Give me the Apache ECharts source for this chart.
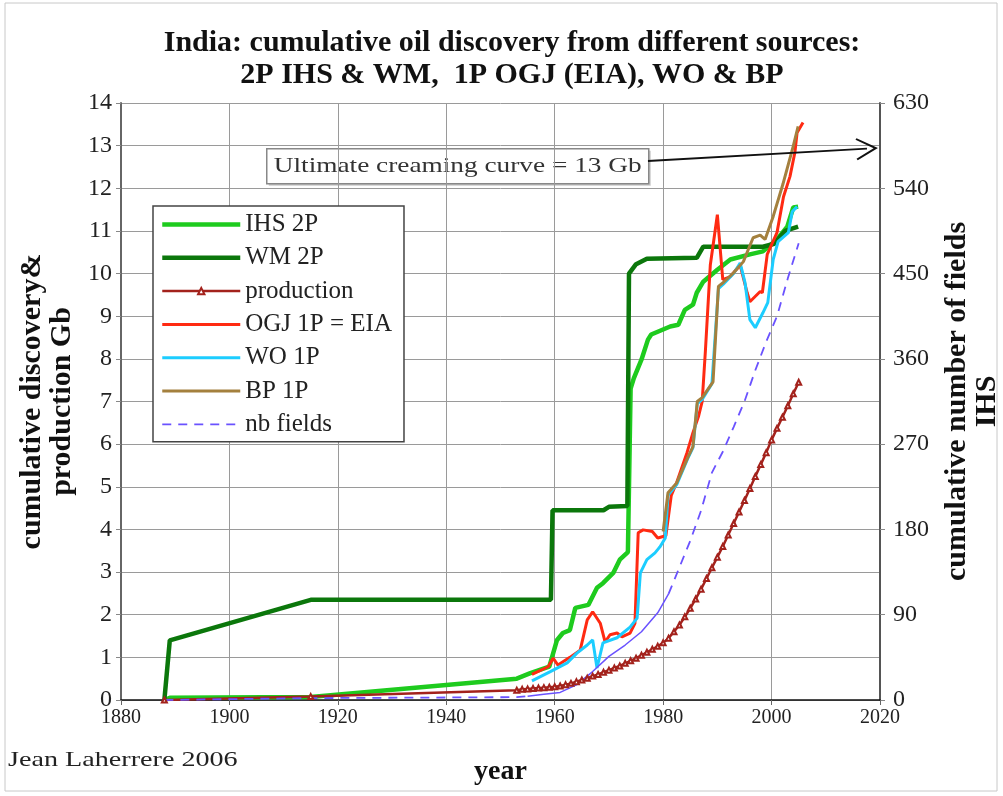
<!DOCTYPE html>
<html>
<head>
<meta charset="utf-8">
<script src="https://cdn.jsdelivr.net/npm/echarts@6/dist/echarts.min.js"></script>
<style>
  html, body { margin: 0; padding: 0; background: #fff; }
  #chart { width: 1003px; height: 796px; }
</style>
</head>
<body>
<div id="chart"></div>
<script>
// [year, Gb]
const ihs2p = [
  [1888, 0], [1889, 0.05], [1915, 0.07], [1953, 0.5], [1955.5, 0.63], [1959, 0.78], [1960.4, 1.4],
  [1961.5, 1.57], [1962.8, 1.64], [1963.8, 2.16], [1966.2, 2.23], [1967.8, 2.63], [1968.9, 2.74],
  [1970.8, 2.98], [1972, 3.29], [1973.5, 3.47], [1974, 7.3], [1974.6, 7.55], [1976, 7.98], [1977.2, 8.45],
  [1977.8, 8.57], [1981.3, 8.76], [1982.8, 8.8], [1984, 9.15], [1985.5, 9.27], [1986.2, 9.55], [1987.4, 9.81],
  [1990, 10.09], [1992.4, 10.33], [1996, 10.45], [1998.4, 10.52], [2001, 10.8], [2002.9, 11.1], [2004, 11.55],
  [2004.9, 11.57]
];
const wm2p = [
  [1888, 0], [1889, 1.4], [1915, 2.35], [1959.3, 2.35], [1959.6, 4.45], [1969, 4.45], [1970, 4.53],
  [1973.4, 4.55], [1973.7, 10.0], [1975, 10.22], [1977, 10.35], [1986.2, 10.37], [1987.4, 10.63],
  [1998.4, 10.63], [2000.5, 10.7], [2002.5, 11.0], [2004.9, 11.1]
];
const production = [
  [1888, 0], [1915, 0.08], [1953, 0.23], [1954, 0.25], [1955, 0.26], [1956, 0.27], [1957, 0.28], [1958, 0.29],
  [1959, 0.3], [1960, 0.31], [1961, 0.33], [1962, 0.36], [1963, 0.39], [1964, 0.43], [1965, 0.47], [1966, 0.51],
  [1967, 0.56], [1968, 0.6], [1969, 0.65], [1970, 0.7], [1971, 0.75], [1972, 0.8], [1973, 0.86], [1974, 0.92],
  [1975, 0.98], [1976, 1.05], [1977, 1.12], [1978, 1.19], [1979, 1.26], [1980, 1.34], [1981, 1.45], [1982, 1.6],
  [1983, 1.76], [1984, 1.95], [1985, 2.15], [1986, 2.37], [1987, 2.6], [1988, 2.85], [1989, 3.1], [1990, 3.35],
  [1991, 3.6], [1992, 3.87], [1993, 4.14], [1994, 4.41], [1995, 4.68], [1996, 4.96], [1997, 5.24], [1998, 5.52],
  [1999, 5.8], [2000, 6.1], [2001, 6.37], [2002, 6.63], [2003, 6.9], [2004, 7.18], [2005, 7.45]
];
const ogj1p = [
  [1955.8, 0.6], [1958.8, 0.78], [1959.7, 0.98], [1960.6, 0.82], [1962.8, 1.0], [1964.7, 1.17], [1966, 1.88],
  [1967, 2.07], [1968.4, 1.8], [1969.3, 1.36], [1970.2, 1.53], [1971.5, 1.57], [1972.4, 1.48], [1973.9, 1.57],
  [1974.8, 1.8], [1975.4, 3.92], [1976.3, 3.99], [1978, 3.95], [1979, 3.8], [1980.5, 3.85], [1981.5, 4.8],
  [1982.5, 5.1], [1984.4, 5.8], [1985.5, 6.27], [1986.5, 6.64], [1987.2, 7.0], [1987.8, 8.2], [1988.7, 10.2],
  [1990, 11.38], [1991, 9.86], [1992.4, 9.93], [1994.2, 10.2], [1995.5, 9.55], [1996, 9.34], [1997.9, 9.58],
  [1998.3, 9.55], [1999.2, 10.45], [2001, 10.96], [2002.2, 11.8], [2003.4, 12.28], [2004.3, 12.84],
  [2004.7, 13.3], [2005.8, 13.54]
];
const wo1p = [
  [1955.8, 0.45], [1959.1, 0.66], [1962.3, 0.87], [1964.1, 1.1], [1966, 1.29], [1967, 1.41], [1967.8, 0.75],
  [1968.9, 1.34], [1971.5, 1.46], [1973.9, 1.71], [1975.2, 1.92], [1975.8, 2.98], [1977, 3.29], [1978.5, 3.45],
  [1979.4, 3.59], [1980.4, 3.8], [1980.9, 4.8], [1982.5, 5.05], [1984.6, 5.68], [1985.5, 5.92], [1986.3, 6.95],
  [1987.2, 7.05], [1989, 7.42], [1990.2, 9.65], [1991.1, 9.75], [1993, 10.0], [1994.2, 10.25], [1995.1, 9.79],
  [1996, 8.92], [1997, 8.73], [1998.4, 9.08], [1999.3, 9.32], [2000.3, 10.33], [2001.2, 10.75], [2003.1, 10.96],
  [2003.8, 11.45], [2004.7, 11.57]
];
const bp1p = [
  [1980, 3.95], [1980.9, 4.86], [1982.5, 5.09], [1984.6, 5.7], [1985.5, 5.94], [1986.3, 7.0], [1987.2, 7.09],
  [1989.2, 7.46], [1990.2, 9.7], [1991.1, 9.79], [1993, 10.02], [1994.8, 10.28], [1995.5, 10.5], [1996.6, 10.84],
  [1997.9, 10.9], [1998.8, 10.8], [2000.3, 11.34], [2002.1, 12.1], [2004, 12.99], [2004.9, 13.45]
];
// [year, number of fields] on the right axis
const nbFields = [
  [1888, 0], [1915, 2], [1953, 3], [1955, 4], [1958, 6], [1961, 8], [1964, 16], [1967, 30], [1970, 46],
  [1973, 58], [1976, 72], [1979, 92], [1981, 112], [1983, 140], [1985, 168], [1987, 200], [1989, 240],
  [1991, 262], [1993, 288], [1995, 315], [1997, 348], [1999, 378], [2001, 405], [2003, 445], [2005, 482]
];
// the dense yearly part of the dashed line prints as solid in the original
const nbSolidFrom = 1955;
const nbSolidTo = 1981;

const legendNames = ["IHS 2P", "WM 2P", "production", "OGJ 1P = EIA", "WO 1P", "BP 1P", "nb fields"];
const creamingText = "Ultimate creaming curve = 13 Gb";
const creamingArrow = [[1977.2, 12.64], [2017.6, 12.93]];

const yearTicks = { min: 1880, max: 2020, interval: 20 };
const gbTicks = { min: 0, max: 14, interval: 1 };
const fieldTicks = { min: 0, max: 630, interval: 90 };

const serif = "'Liberation Serif', 'DejaVu Serif', serif";
const labelStyle = { color: "#222", fontFamily: serif, fontSize: 24, formatter: (v) => String(v) };
const gridLine = { show: true, lineStyle: { color: "#9a9a9a", width: 1 } };

const chevron = "path://M10,0 L20,19 L18.6,20 L10,4 L1.4,20 L0,19 Z";

const nbDashed = nbFields.map((p) => (p[0] > nbSolidFrom && p[0] < nbSolidTo ? [p[0], "-"] : p));
const nbSolid = nbFields.filter((p) => p[0] >= nbSolidFrom && p[0] <= nbSolidTo);

// only the production entry keeps its marker in the legend
const legendData = legendNames.map((name) =>
  name === "production" ? { name } : { name, itemStyle: { opacity: 0 } }
);

const chart = echarts.init(document.getElementById("chart"));
chart.setOption({
  animation: false,
  backgroundColor: "#fff",
  title: {
    text: "India: cumulative oil discovery from different sources:\n2P IHS & WM,  1P OGJ (EIA), WO & BP",
    left: 507,
    top: 22,
    textAlign: "center",
    textStyle: { fontFamily: serif, fontSize: 30, fontWeight: "bold", color: "#111", lineHeight: 32 },
  },
  grid: { left: 121, right: 123, top: 103, bottom: 96, outerBoundsMode: "none" },
  legend: {
    orient: "vertical",
    left: 153,
    top: 206,
    padding: [6, 12, 5, 7],
    itemWidth: 78,
    itemHeight: 8,
    itemGap: 8.3,
    backgroundColor: "#fff",
    borderColor: "#444",
    borderWidth: 1.5,
    lineStyle: { width: "inherit" },
    textStyle: { fontFamily: serif, fontSize: 25, color: "#222" },
    data: legendData,
  },
  xAxis: {
    type: "value",
    ...yearTicks,
    name: "year",
    nameLocation: "middle",
    nameGap: 58,
    nameTextStyle: { fontFamily: serif, fontSize: 28, fontWeight: "bold", color: "#111" },
    axisLine: { lineStyle: { color: "#111", width: 1.5 } },
    axisTick: { show: true, length: 5, lineStyle: { color: "#666" } },
    axisLabel: { ...labelStyle, fontSize: 20, margin: 8 },
    splitLine: gridLine,
  },
  yAxis: [
    {
      type: "value",
      ...gbTicks,
      name: "cumulative discovery&\nproduction Gb",
      nameLocation: "middle",
      nameGap: 41,
      nameTextStyle: { fontFamily: serif, fontSize: 30, fontWeight: "bold", color: "#111", lineHeight: 30 },
      axisLine: { show: true, lineStyle: { color: "#666", width: 2 } },
      axisTick: { show: true, length: 5, lineStyle: { color: "#888" } },
      axisLabel: { ...labelStyle, margin: 9 },
      splitLine: gridLine,
    },
    {
      type: "value",
      ...fieldTicks,
      position: "right",
      name: "cumulative number of fields\nIHS",
      nameLocation: "middle",
      nameGap: 62,
      nameTextStyle: { fontFamily: serif, fontSize: 30, fontWeight: "bold", color: "#111", lineHeight: 30 },
      axisLine: { show: true, lineStyle: { color: "#555", width: 2 } },
      axisTick: { show: true, length: 5, lineStyle: { color: "#888" } },
      axisLabel: { ...labelStyle, margin: 13 },
      splitLine: { show: false },
    },
  ],
  graphic: [
    {
      type: "rect",
      shape: { x: 5, y: 3, width: 992, height: 788 },
      style: { fill: "none", stroke: "#c8c8c8", lineWidth: 1 },
      silent: true,
    },
    {
      type: "group",
      left: 266,
      top: 148,
      children: [
        { type: "rect", shape: { x: 2, y: 2, width: 382, height: 35 }, style: { fill: "#ccc" } },
        { type: "rect", shape: { x: 0, y: 0, width: 382, height: 35 }, style: { fill: "#fff", stroke: "#888", lineWidth: 1.5 } },
        {
          type: "text",
          x: 7,
          y: 18,
          scaleX: 1.3,
          style: { text: creamingText, fontFamily: serif, fontSize: 21, fill: "#333", verticalAlign: "middle" },
        },
      ],
    },
    {
      type: "text",
      x: 8,
      y: 760,
      scaleX: 1.34,
      style: { text: "Jean Laherrere 2006", fontFamily: serif, fontSize: 21, fill: "#222", verticalAlign: "middle" },
    },
  ],
  series: [
    {
      name: "IHS 2P",
      type: "line",
      data: ihs2p,
      symbol: "none",
      lineStyle: { color: "#1ecb1e", width: 4.5 },
      itemStyle: { color: "#1ecb1e" },
    },
    {
      name: "WM 2P",
      type: "line",
      data: wm2p,
      symbol: "none",
      lineStyle: { color: "#0b770b", width: 4.5 },
      itemStyle: { color: "#0b770b" },
    },
    {
      name: "production",
      type: "line",
      data: production,
      symbol: "emptyTriangle",
      symbolSize: 5,
      lineStyle: { color: "#a3221c", width: 2.5 },
      itemStyle: { color: "#a3221c", borderColor: "#a3221c", borderWidth: 1 },
    },
    {
      name: "OGJ 1P = EIA",
      type: "line",
      data: ogj1p,
      symbol: "none",
      lineStyle: { color: "#ff2a12", width: 3 },
      itemStyle: { color: "#ff2a12" },
      markLine: {
        silent: true,
        symbol: ["none", chevron],
        symbolSize: [22, 22],
        label: { show: false },
        lineStyle: { color: "#111", width: 1.8, type: "solid" },
        data: [[{ coord: creamingArrow[0] }, { coord: creamingArrow[1] }]],
      },
    },
    {
      name: "WO 1P",
      type: "line",
      data: wo1p,
      symbol: "none",
      lineStyle: { color: "#1ccdff", width: 3 },
      itemStyle: { color: "#1ccdff" },
    },
    {
      name: "BP 1P",
      type: "line",
      data: bp1p,
      symbol: "none",
      lineStyle: { color: "#a4803e", width: 3 },
      itemStyle: { color: "#a4803e" },
    },
    {
      name: "nb fields",
      type: "line",
      yAxisIndex: 1,
      data: nbDashed,
      symbol: "none",
      connectNulls: false,
      lineStyle: { color: "#6a52ff", width: 1.8, type: [9, 7] },
      itemStyle: { color: "#6a52ff" },
    },
    {
      name: "nb fields (yearly)",
      type: "line",
      yAxisIndex: 1,
      data: nbSolid,
      symbol: "none",
      lineStyle: { color: "#6a52ff", width: 1.5 },
      itemStyle: { color: "#6a52ff" },
    },
  ],
});
</script>
</body>
</html>
